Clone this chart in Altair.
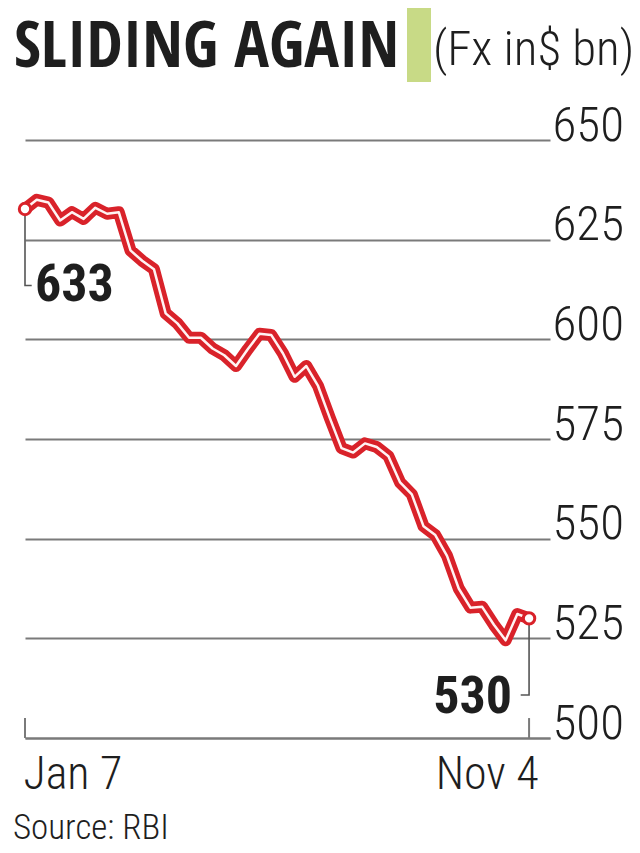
import altair as alt
import pandas as pd

# ---- data (weekly forex reserves, $ bn) ----
dates = [d.strftime("%Y-%m-%d") for d in pd.date_range("2022-01-07", periods=44, freq="7D")]
values = [632.7, 635.0, 634.3, 629.8, 631.9, 630.2, 633.0, 631.5, 631.9, 622.3,
          619.7, 617.6, 606.5, 604.0, 600.4, 600.4, 597.7, 596.0, 593.3, 597.5,
          601.4, 601.1, 596.5, 590.6, 593.3, 588.3, 580.3, 572.7, 571.6, 573.9,
          573.0, 570.7, 564.1, 561.1, 553.1, 550.9, 545.7, 537.5, 532.7, 532.9,
          528.4, 524.5, 531.1, 530.0]
y_ticks = [500, 525, 550, 575, 600, 625, 650]
x_tick_dates = ["2022-01-07", "2022-11-04"]

title_text = "SLIDING AGAIN"
unit_text = "(Fx in$ bn)"
source_text = "Source: RBI"

RED = "#d9222a"
GRID = "#7a7a7a"
TXT = "#1e1e1e"
LIGHT = "Roboto Condensed"

df = pd.DataFrame({"date": dates, "value": values})
ends = pd.DataFrame({"date": [dates[0], dates[-1]], "value": [values[0], values[-1]],
                     "label": [f"{values[0]:.0f}", f"{values[-1]:.0f}"]})
ticks_df = pd.DataFrame({"date": x_tick_dates, "value": [500, 500], "y1": [505, 505]})

# connector leaders (start: down then right; end: down then left)
lead_start = pd.DataFrame({"date": [dates[0], dates[0], "2022-01-11"],
                           "value": [values[0], 613.5, 613.5], "o": [0, 1, 2]})
lead_end = pd.DataFrame({"date": [dates[-1], dates[-1], "2022-10-30"],
                         "value": [values[-1], 510.8, 510.8], "o": [0, 1, 2]})

x_scale = alt.Scale(type="utc",
                    domain=[alt.DateTime(year=2022, month=1, date=7, utc=True),
                            alt.DateTime(year=2022, month=11, date=16, hours=12, utc=True)])
y_scale = alt.Scale(domain=[500, 650], zero=False, nice=False)

x_axis = alt.Axis(
    values=[alt.DateTime(year=2022, month=1, date=7, utc=True),
            alt.DateTime(year=2022, month=11, date=4, utc=True)],
    labelExpr="utcFormat(datum.value, '%b %-d')",
    title=None, grid=False, ticks=False, tickSize=0,
    domainColor=GRID, domainWidth=2,
    labelFont=LIGHT, labelFontSize=46, labelFontWeight=300, labelColor=TXT,
    labelBaseline="alphabetic", labelPadding=50,
    labelAlign={"condition": {"test": "datum.index > 0.5", "value": "right"}, "value": "left"},
    labelOffset={"condition": {"test": "datum.index > 0.5", "value": 9}, "value": -2},
)
y_axis = alt.Axis(
    orient="right", values=y_ticks, title=None, grid=True, gridColor=GRID, gridWidth=2,
    domain=False, ticks=False, labelAlign="left", labelBaseline="alphabetic", labelPadding=2,
    labelFont=LIGHT, labelFontSize=49, labelFontWeight=300, labelColor=TXT,
)

X = alt.X("date:T", scale=x_scale, axis=x_axis)
Y = alt.Y("value:Q", scale=y_scale, axis=y_axis)

base = alt.Chart(df).encode(x=X, y=Y)
line_outer = base.mark_line(color=RED, strokeWidth=12, strokeJoin="round", strokeCap="round")
line_inner = base.mark_line(color="#fff3f3", strokeWidth=2.5, strokeJoin="round", strokeCap="round")

leader1 = alt.Chart(lead_start).mark_line(color="#555", strokeWidth=1.6).encode(x=X, y=Y, order="o:Q")
leader2 = alt.Chart(lead_end).mark_line(color="#555", strokeWidth=1.6).encode(x=X, y=Y, order="o:Q")

dots = alt.Chart(ends).mark_point(shape="circle", filled=True, fill="white", stroke=RED,
                                  strokeWidth=3, size=130, opacity=1).encode(x=X, y=Y)

lbl_start = alt.Chart(ends.iloc[[0]]).mark_text(
    font=LIGHT, fontWeight="bold", fontSize=52, color=TXT, align="left", baseline="alphabetic",
    dx=10, dy=92).encode(x=X, y=Y, text="label:N")
lbl_end = alt.Chart(ends.iloc[[1]]).mark_text(
    font=LIGHT, fontWeight="bold", fontSize=52, color=TXT, align="right", baseline="alphabetic",
    dx=-17, dy=95).encode(x=X, y=Y, text="label:N")

x_ticks = alt.Chart(ticks_df).mark_rule(color=GRID, strokeWidth=2).encode(
    x=X, y=Y, y2="y1:Q")

one = pd.DataFrame({"a": [0]})
title = alt.Chart(one).mark_text(
    text=title_text, font="Open Sans Condensed", fontWeight="bold", fontSize=65, color=TXT,
    align="left", baseline="alphabetic").encode(x=alt.value(-11), y=alt.value(-73))
green = alt.Chart(one).mark_rect(color="#c8da86").encode(
    x=alt.value(382), x2=alt.value(406), y=alt.value(-135), y2=alt.value(-58))
unit = alt.Chart(one).mark_text(
    text=unit_text, font=LIGHT, fontWeight=300, fontSize=49, color=TXT,
    align="left", baseline="alphabetic").encode(x=alt.value(408), y=alt.value(-75))
source = alt.Chart(one).mark_text(
    text=source_text, font=LIGHT, fontWeight=300, fontSize=35, color=TXT,
    align="left", baseline="alphabetic").encode(x=alt.value(-12), y=alt.value(699))

chart = alt.layer(
    line_outer, line_inner, x_ticks, leader1, leader2, dots, lbl_start, lbl_end,
    title, green, unit, source
).properties(
    width=525, height=598,
    autosize=alt.AutoSizeParams(type="none"),
    padding={"left": 17, "top": 132, "right": 82, "bottom": 107},
    background="white",
).configure_view(stroke=None)

chart.save("out.html", embed_options={"renderer": "svg", "actions": False})
